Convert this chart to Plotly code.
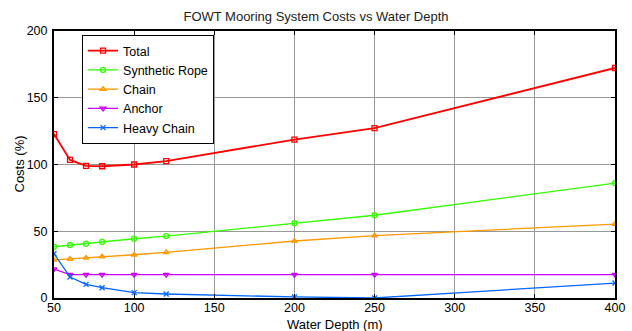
import plotly.graph_objects as go

depth = [50, 60, 70, 80, 100, 120, 200, 250, 400]
total = [122.8, 103.4, 99.0, 98.7, 100.0, 102.5, 118.7, 127.3, 172.3]
synthetic_rope = [38.4, 39.7, 40.7, 42.0, 44.4, 46.4, 56.0, 62.0, 86.1]
chain = [28.5, 29.2, 30.0, 31.0, 32.4, 34.2, 42.7, 46.7, 55.4]
anchor = [21.7, 17.5, 17.5, 17.5, 17.5, 17.5, 17.5, 17.5, 17.5]
heavy_chain = [33.2, 15.7, 10.2, 7.7, 4.0, 3.0, 0.8, 0.0, 11.2]

series = [
    ("Total", total, "#ff0000", "square-open", 1.8),
    ("Synthetic Rope", synthetic_rope, "#33ff00", "circle-open", 1.3),
    ("Chain", chain, "#ff9900", "triangle-up-open", 1.3),
    ("Anchor", anchor, "#cc00ff", "triangle-down-open", 1.3),
    ("Heavy Chain", heavy_chain, "#0066ff", "x-thin-open", 1.3),
]

W, H = 632, 331
fig = go.Figure()
for name, vals, color, sym, w in series:
    fig.add_trace(go.Scatter(
        x=depth, y=vals, name=name, mode="lines+markers",
        line=dict(color=color, width=w),
        marker=dict(symbol=sym, size=5, color=color, line=dict(color=color, width=1.3)),
    ))

fig.update_layout(
    width=W, height=H,
    margin=dict(l=54, r=17, t=31, b=33, autoexpand=False),
    paper_bgcolor="white", plot_bgcolor="white",
    font=dict(family="Liberation Sans, Arial, sans-serif", size=13, color="#000"),
    title=dict(text="FOWT Mooring System Costs vs Water Depth", x=0.5, xanchor="center",
               y=1 - 16 / H, yanchor="middle", font=dict(size=13, color="#222")),
    showlegend=True,
    legend=dict(x=0.05, y=0.985, xanchor="left", yanchor="top",
                bgcolor="white", bordercolor="black", borderwidth=1,
                font=dict(size=12.5), tracegroupgap=0, itemwidth=30),
    xaxis=dict(range=[50, 400], tickvals=[50, 100, 150, 200, 250, 300, 350, 400],
               showgrid=True, gridcolor="#999999", gridwidth=1,
               ticks="inside", ticklen=4, tickcolor="black",
               showline=True, linecolor="black", linewidth=2, mirror="ticks",
               zeroline=False, automargin=False, tickfont=dict(size=12.5),
               ticklabelstandoff=-3),
    yaxis=dict(range=[0, 200], tickvals=[0, 50, 100, 150, 200],
               showgrid=True, gridcolor="#999999", gridwidth=1,
               ticks="inside", ticklen=4, tickcolor="black",
               showline=True, linecolor="black", linewidth=2, mirror="ticks",
               zeroline=False, automargin=False, tickfont=dict(size=12.5),
               ticklabelstandoff=2),
    annotations=[
        dict(text="Water Depth (m)", xref="paper", yref="paper",
             x=0.5, y=-(324 - 298) / (H - 64),
             xanchor="center", yanchor="middle", showarrow=False, font=dict(size=13)),
        dict(text="Costs (%)", xref="paper", yref="paper", textangle=-90,
             x=-(54 - 19) / (W - 71), y=0.5,
             xanchor="center", yanchor="middle", showarrow=False, font=dict(size=13)),
    ],
)

fig.write_html("out.html")
